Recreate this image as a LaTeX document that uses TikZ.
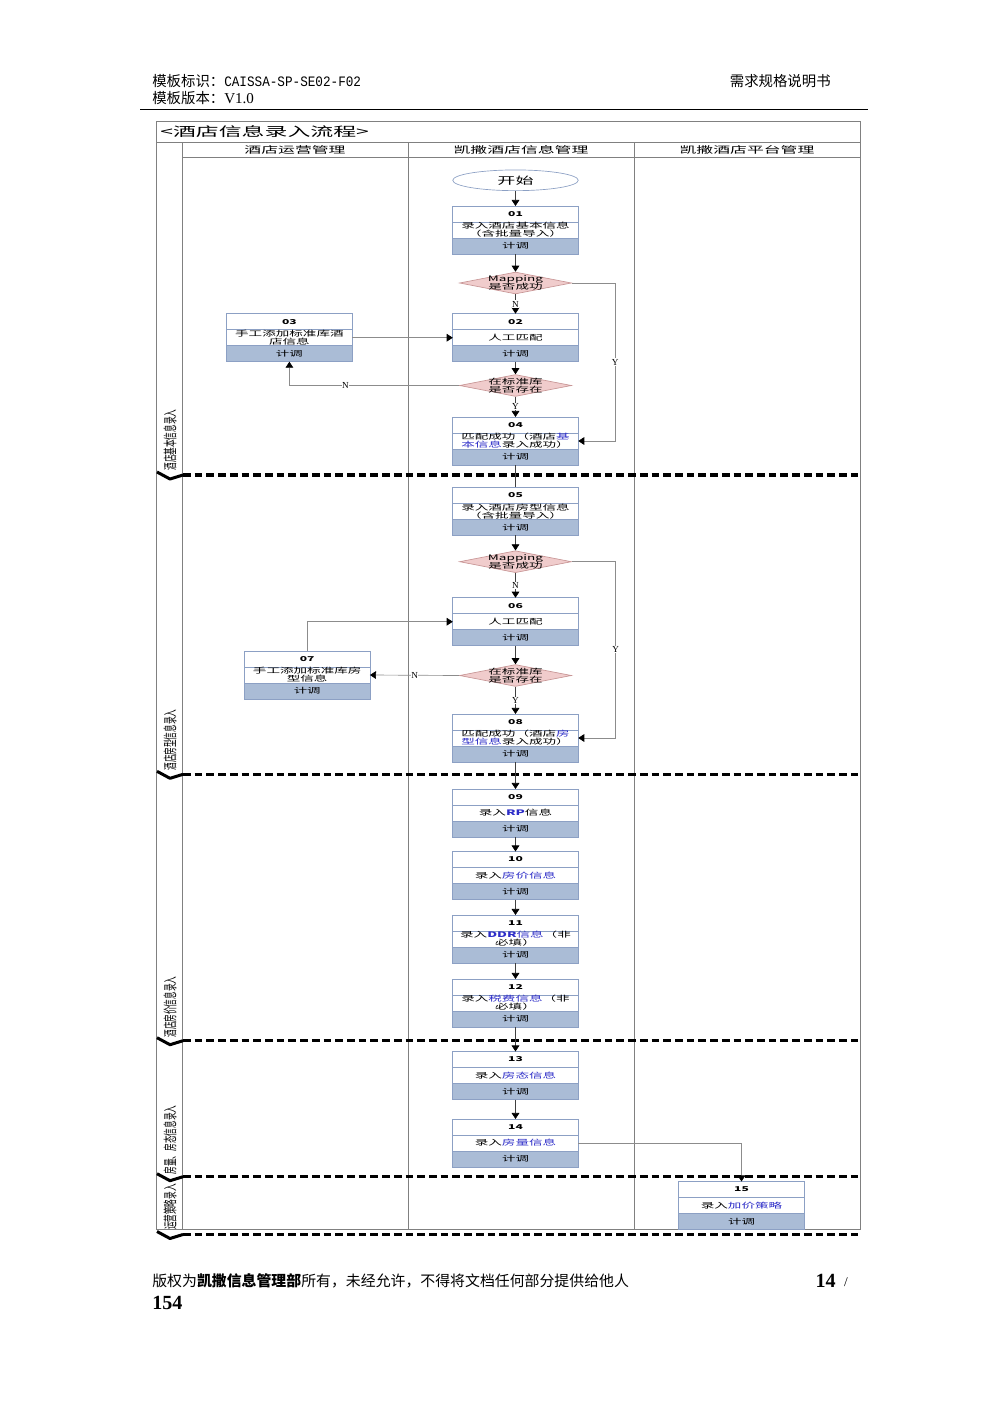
\documentclass[tikz,border=0pt]{standalone}
\usepackage{fontspec}
\setmainfont{Liberation Serif}
\newfontfamily\cjk{Noto Sans CJK SC}
\newfontfamily\wide[FakeStretch=1.8]{Noto Sans CJK SC}
\newfontfamily\narrow[FakeStretch=0.55]{Noto Sans CJK SC}
\newfontfamily\mono[FakeStretch=0.88]{Liberation Mono}
\usepackage{xcolor}
\usepackage{tikz}
\usetikzlibrary{shapes.geometric, arrows.meta}

\definecolor{boxline}{RGB}{140,160,196}
\definecolor{boxfill}{RGB}{170,188,214}
\definecolor{dialine}{RGB}{200,150,150}
\definecolor{diafill}{RGB}{240,204,204}
\definecolor{txtblue}{RGB}{45,45,200}
\newcommand{\tightlines}{\lineskiplimit-10pt\relax}

\begin{document}
\begin{tikzpicture}[x=0.21mm, y=-0.21mm,
    numrow/.style={draw=boxline, fill=white, minimum width=26.36mm, minimum height=3.36mm,
      inner sep=0pt, outer sep=0pt, font=\wide\bfseries\fontsize{4}{5}\selectfont},
    txtrow/.style={numrow, align=center, font=\wide\fontsize{4.5}{4.8}\selectfont\tightlines},
    jdrow/.style={numrow, fill=boxfill, font=\wide\fontsize{4.45}{5}\selectfont},
    startnode/.style={ellipse, draw=boxline, fill=white, minimum width=26.36mm, minimum height=4.35mm,
      inner sep=0pt, font=\wide\fontsize{6}{7}\selectfont},
    dia/.style={diamond, draw=dialine, fill=diafill, minimum width=23.5mm, minimum height=4.6mm, inner sep=0pt},
    diatxt/.style={align=center, inner sep=0pt, font=\wide\fontsize{4.5}{4.8}\selectfont\tightlines},
    flow/.style={draw=black!75, -{Triangle[length=3.6pt, width=4.6pt, color=black]}},
    route/.style={draw=black!45, -{Triangle[length=3.6pt, width=4.6pt, color=black]}},
    yn/.style={fill=white, inner sep=0.3pt, font=\fontsize{5.5}{6}\selectfont},
    lane/.style={draw=black!50, line width=0.5pt},
    phase/.style={line width=2pt, dash pattern=on 4.6pt off 2.4pt},
    chev/.style={line width=1.8pt, line join=round},
    lanehead/.style={inner sep=0pt, font=\wide\fontsize{5.6}{7}\selectfont},
    lanelabel/.style={rotate=90, inner sep=0pt, font=\narrow\fontsize{8.3}{9}\selectfont}]

  \useasboundingbox (0,0) rectangle (1000,1415);

  % Page header
  \node[anchor=west, inner sep=0pt] (tplid) at (152,81)
    {{\cjk\fontsize{8.6}{10}\selectfont 模板标识：}{\mono\fontsize{8.6}{10}\selectfont CAISSA-SP-SE02-F02}};
  \node[anchor=west, inner sep=0pt] (tplver) at (152,98)
    {{\cjk\fontsize{8.6}{10}\selectfont 模板版本：}{\fontsize{9}{10}\selectfont V1.0}};
  \node[anchor=east, inner sep=0pt] (doctype) at (831,81) {\cjk\fontsize{8.6}{10}\selectfont 需求规格说明书};
  \draw[line width=1.1pt] (140,109.5) -- (868,109.5);

  % Swimlane frame
  \draw[lane] (156.5,121.5) rectangle (860,1229);
  \draw[lane] (156.5,142) -- (860,142);
  \draw[lane] (182,157) -- (860,157);
  \draw[lane] (182,142) -- (182,1229);
  \draw[lane] (408.5,142) -- (408.5,1229);
  \draw[lane] (634,142) -- (634,1229);
  \node[anchor=west, inner sep=0pt, font=\wide\fontsize{7.6}{9}\selectfont] (title) at (160,131.5) {<酒店信息录入流程>};
  \node[lanehead] (head1) at (295,149.5) {酒店运营管理};
  \node[lanehead] (head2) at (521,149.5) {凯撒酒店信息管理};
  \node[lanehead] (head3) at (747,149.5) {凯撒酒店平台管理};

  % Phase separators
  \draw[phase] (183,475) -- (861,475);
  \draw[chev] (157,472) -- (170,479) -- (183,475);
  \draw[phase] (183,774.3) -- (861,774.3);
  \draw[chev] (157,771.3) -- (170,778.3) -- (183,774.3);
  \draw[phase] (183,1040.7) -- (861,1040.7);
  \draw[chev] (157,1037.7) -- (170,1044.7) -- (183,1040.7);
  \draw[phase] (183,1176.7) -- (861,1176.7);
  \draw[chev] (157,1173.7) -- (170,1180.7) -- (183,1176.7);
  \draw[phase] (183,1234.5) -- (861,1234.5);
  \draw[chev] (157,1231.5) -- (170,1238.5) -- (183,1234.5);

  \node[lanelabel] (phase1) at (170,440) {酒店基本信息录入};
  \node[lanelabel] (phase2) at (170,740) {酒店房型信息录入};
  \node[lanelabel] (phase3) at (170,1007) {酒店房价信息录入};
  \node[lanelabel] (phase4) at (170,1140) {房量、房态信息录入};
  \node[lanelabel] (phase5) at (170,1207) {运营策略录入};

  % Basic hotel info
  \node[startnode] (start) at (515.5,180.3) {开始};

  \node[numrow] (n01) at (515.5,214) {01};
  \node[txtrow] (t01) at (515.5,230) {录入酒店基本信息\\（含批量导入）};
  \node[jdrow] (k01) at (515.5,246) {计调};

  \node[dia] (dm1) at (515.5,283) {};
  \node[diatxt] (dm1t) at (515.5,283) {Mapping\\是否成功};

  \node[numrow] (n02) at (515.5,321.7) {02};
  \node[txtrow] (t02) at (515.5,337.7) {人工匹配};
  \node[jdrow] (k02) at (515.5,353.7) {计调};

  \node[numrow] (n03) at (289.4,321.7) {03};
  \node[txtrow] (t03) at (289.4,337.7) {手工添加标准库酒\\店信息};
  \node[jdrow] (k03) at (289.4,353.7) {计调};

  \node[dia] (dm2) at (515.5,385.5) {};
  \node[diatxt] (dm2t) at (515.5,385.5) {在标准库\\是否存在};

  \node[numrow] (n04) at (515.5,425) {04};
  \node[txtrow] (t04) at (515.5,441) {匹配成功（酒店\textcolor{txtblue}{基}\\\textcolor{txtblue}{本信息}录入成功）};
  \node[jdrow] (k04) at (515.5,457) {计调};

  \draw[flow] (start) -- (n01);
  \draw[flow] (k01) -- (dm1);
  \draw[flow] (dm1) -- node[yn] {N} (n02);
  \draw[route] (dm1.east) -- ++(43.5,0) |- node[yn, pos=0.25] {Y} (t04.east);
  \draw[flow] (k02) -- (dm2);
  \draw[route] (dm2.west) -| node[yn, pos=0.335] {N} (k03.south);
  \draw[route] (t03.east) -- (t02.west);
  \draw[flow] (dm2) -- node[yn] {Y} (n04);

  % Room type info
  \node[numrow] (n05) at (515.5,495.3) {05};
  \node[txtrow] (t05) at (515.5,511.3) {录入酒店房型信息\\（含批量导入）};
  \node[jdrow] (k05) at (515.5,527.3) {计调};

  \node[dia] (dm3) at (515.5,561.7) {};
  \node[diatxt] (dm3t) at (515.5,561.7) {Mapping\\是否成功};

  \node[numrow] (n06) at (515.5,605.7) {06};
  \node[txtrow] (t06) at (515.5,621.7) {人工匹配};
  \node[jdrow] (k06) at (515.5,637.7) {计调};

  \node[numrow] (n07) at (307.2,659) {07};
  \node[txtrow] (t07) at (307.2,675) {手工添加标准库房\\型信息};
  \node[jdrow] (k07) at (307.2,691) {计调};

  \node[dia] (dm4) at (515.5,675.5) {};
  \node[diatxt] (dm4t) at (515.5,675.5) {在标准库\\是否存在};

  \node[numrow] (n08) at (515.5,722) {08};
  \node[txtrow] (t08) at (515.5,738) {匹配成功（酒店\textcolor{txtblue}{房}\\\textcolor{txtblue}{型信息}录入成功）};
  \node[jdrow] (k08) at (515.5,754) {计调};

  \draw[draw=black!75] (k04) -- (n05);
  \draw[flow] (k05) -- (dm3);
  \draw[flow] (dm3) -- node[yn] {N} (n06);
  \draw[route] (dm3.east) -- ++(44,0) |- node[yn, pos=0.25] {Y} (t08.east);
  \draw[flow] (k06) -- (dm4);
  \draw[route] (dm4.west) -- node[yn] {N} (t07.east);
  \draw[route] (n07.north) |- (t06.west);
  \draw[flow] (dm4) -- node[yn] {Y} (n08);

  % Room price info
  \node[numrow] (n09) at (515.5,797) {09};
  \node[txtrow] (t09) at (515.5,813) {录入\textcolor{txtblue}{\textbf{RP}}信息};
  \node[jdrow] (k09) at (515.5,829) {计调};

  \node[numrow] (n10) at (515.5,859.5) {10};
  \node[txtrow] (t10) at (515.5,875.5) {录入\textcolor{txtblue}{房价信息}};
  \node[jdrow] (k10) at (515.5,891.5) {计调};

  \node[numrow] (n11) at (515.5,923) {11};
  \node[txtrow] (t11) at (515.5,939) {录入\textcolor{txtblue}{\textbf{DDR}信息}（非\\必填）};
  \node[jdrow] (k11) at (515.5,955) {计调};

  \node[numrow] (n12) at (515.5,987) {12};
  \node[txtrow] (t12) at (515.5,1003) {录入\textcolor{txtblue}{税费信息}（非\\必填）};
  \node[jdrow] (k12) at (515.5,1019) {计调};

  \draw[flow] (k08) -- (n09);
  \draw[flow] (k09) -- (n10);
  \draw[flow] (k10) -- (n11);
  \draw[flow] (k11) -- (n12);

  % Room status and quota
  \node[numrow] (n13) at (515.5,1059.5) {13};
  \node[txtrow] (t13) at (515.5,1075.5) {录入\textcolor{txtblue}{房态信息}};
  \node[jdrow] (k13) at (515.5,1091.5) {计调};

  \node[numrow] (n14) at (515.5,1127) {14};
  \node[txtrow] (t14) at (515.5,1143) {录入\textcolor{txtblue}{房量信息}};
  \node[jdrow] (k14) at (515.5,1159) {计调};

  % Operation strategy
  \node[numrow] (n15) at (741.5,1189.5) {15};
  \node[txtrow] (t15) at (741.5,1205.5) {录入\textcolor{txtblue}{加价策略}};
  \node[jdrow] (k15) at (741.5,1221.5) {计调};

  \draw[flow] (k12) -- (n13);
  \draw[flow] (k13) -- (n14);
  \draw[route] (t14.east) -| (n15.north);

  % Page footer
  \node[anchor=west, inner sep=0pt] (copyright) at (152,1281)
    {\cjk\fontsize{8.9}{10}\selectfont 版权为\textbf{凯撒信息管理部}所有，未经允许，不得将文档任何部分提供给他人};
  \node[anchor=east, inner sep=0pt] (pageno) at (836,1281) {\fontsize{12}{14}\selectfont\textbf{14}};
  \node[inner sep=0pt] (pagesep) at (846,1282) {\fontsize{8}{10}\selectfont /};
  \node[anchor=west, inner sep=0pt] (pagetotal) at (152,1303) {\fontsize{12}{14}\selectfont\textbf{154}};
\end{tikzpicture}
\end{document}
